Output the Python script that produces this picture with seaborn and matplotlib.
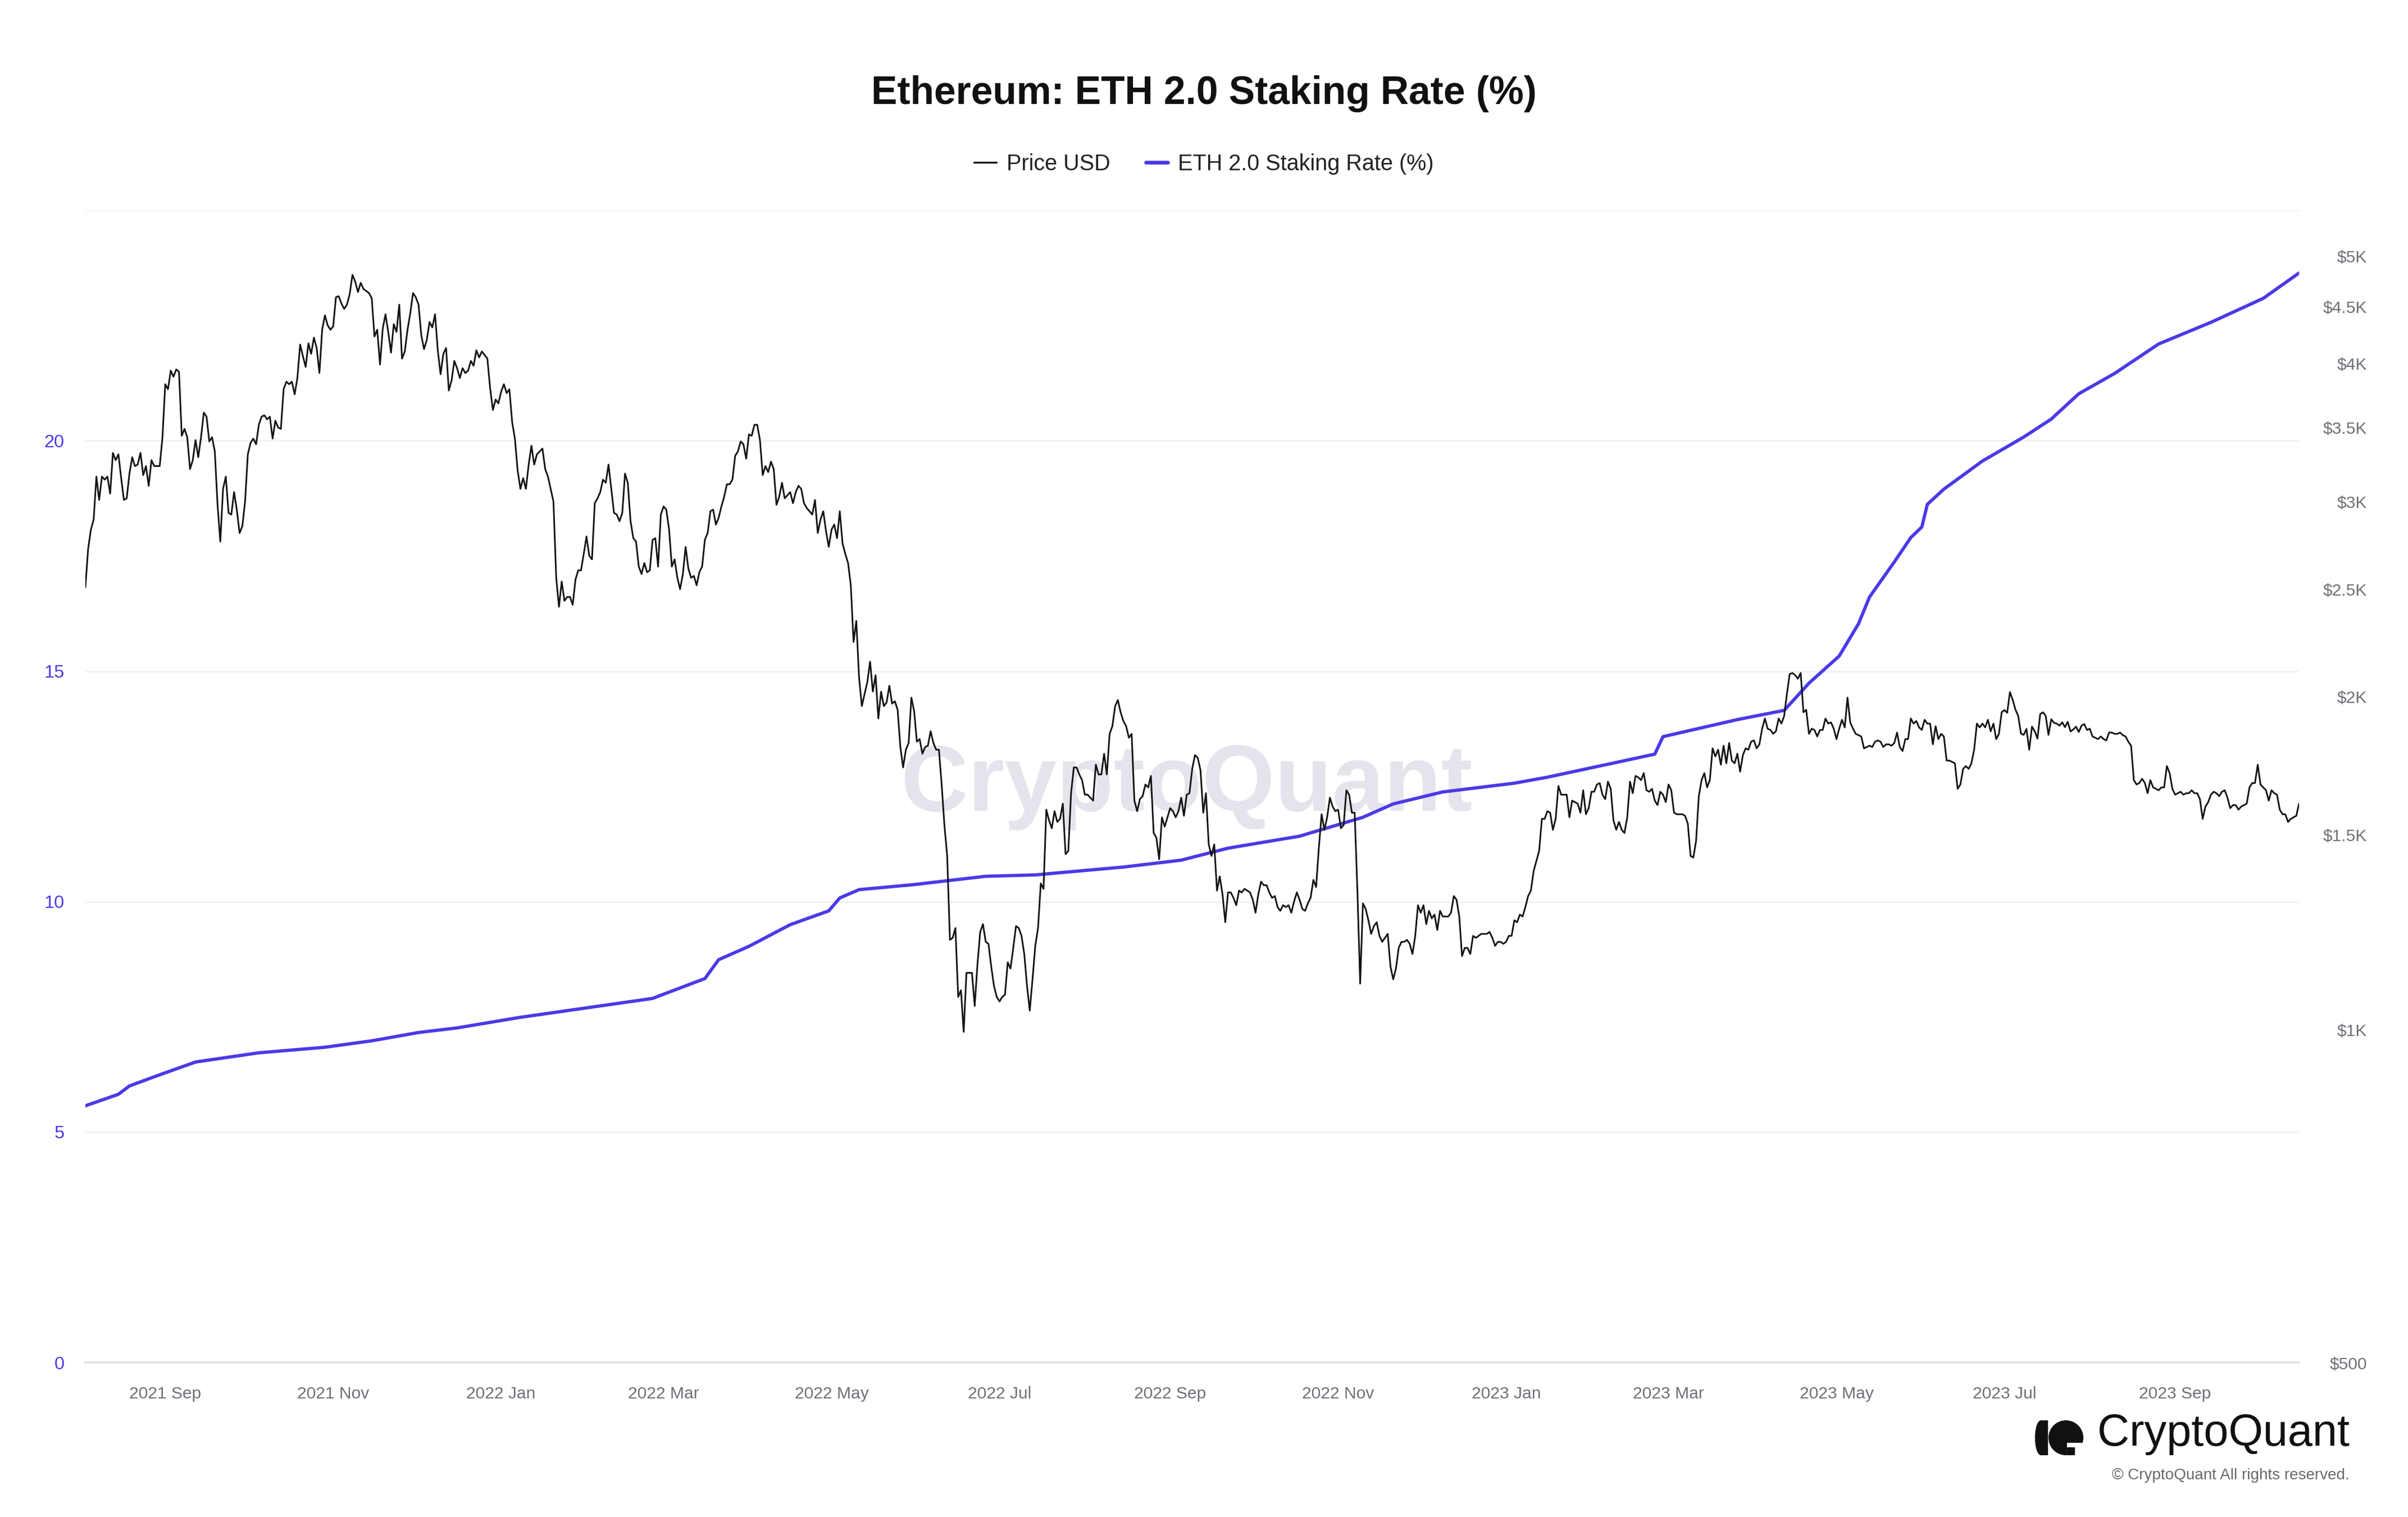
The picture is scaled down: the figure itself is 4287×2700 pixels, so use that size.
import numpy as np
import pandas as pd
import matplotlib
matplotlib.use("Agg")
import matplotlib.pyplot as plt
import matplotlib.dates as mdates
from matplotlib.ticker import FixedLocator, NullLocator, FixedFormatter
from matplotlib.lines import Line2D
from matplotlib.patches import Ellipse, Circle, Rectangle
import seaborn as sns

# ---------------- data ----------------
price_2021_08 = [2510, 2720, 2830, 2890, 3160, 3010, 3160, 3140, 3160, 3050, 3320, 3270, 3310, 3150, 3010,
                 3020, 3180, 3290, 3230, 3240, 3320, 3170, 3230, 3100, 3270, 3230, 3230, 3230, 3430]
price_2021_09 = [3830, 3790, 3940, 3890, 3950, 3930, 3440, 3490, 3430, 3210, 3270, 3410, 3290, 3430, 3610,
                 3580, 3400, 3430, 3330, 2980, 2760, 3080, 3160, 2930, 2920, 3060, 2950, 2810, 2850, 3000]
price_2021_10 = [3310, 3390, 3420, 3380, 3520, 3580, 3590, 3560, 3580, 3420, 3550, 3500, 3490, 3790, 3850,
                 3830, 3850, 3750, 3880, 4160, 4060, 3970, 4170, 4080, 4220, 4130, 3920, 4290, 4420, 4330, 4290]
price_2021_11 = [4320, 4590, 4600, 4530, 4480, 4520, 4620, 4810, 4740, 4640, 4730, 4670, 4650, 4630, 4580,
                 4230, 4290, 3990, 4300, 4430, 4270, 4090, 4340, 4270, 4520, 4040, 4100, 4290, 4440, 4630]
price_2021_12 = [4590, 4520, 4240, 4120, 4200, 4360, 4310, 4430, 4110, 3910, 4080, 4130, 3780, 3860, 4020,
                 3960, 3880, 3960, 3920, 3940, 4020, 3980, 4110, 4050, 4100, 4070, 4040, 3800, 3630, 3710, 3680]
price_2022_01 = [3770, 3830, 3760, 3790, 3540, 3420, 3200, 3080, 3150, 3080, 3240, 3370, 3240, 3310, 3330,
                 3350, 3210, 3160, 3080, 3000, 2560, 2410, 2540, 2440, 2460, 2460, 2420, 2550, 2600, 2600, 2690]
price_2022_02 = [2790, 2680, 2660, 2990, 3020, 3060, 3140, 3120, 3240, 3080, 2930, 2920, 2880, 2930, 3180,
                 3120, 2880, 2780, 2760, 2620, 2580, 2640, 2590, 2600, 2770, 2780, 2620, 2920]
price_2022_03 = [2970, 2950, 2830, 2620, 2660, 2560, 2500, 2580, 2730, 2610, 2560, 2570, 2520, 2590, 2620,
                 2770, 2810, 2940, 2950, 2860, 2900, 2970, 3030, 3110, 3110, 3140, 3300, 3330, 3400, 3380, 3280]
price_2022_04 = [3450, 3440, 3520, 3520, 3410, 3170, 3230, 3190, 3260, 3210, 2980, 3030, 3120, 3020, 3040,
                 3060, 2990, 3060, 3100, 3080, 2990, 2960, 2940, 2920, 3010, 2810, 2890, 2940, 2820, 2730]
price_2022_05 = [2830, 2860, 2780, 2940, 2750, 2690, 2640, 2520, 2240, 2340, 2080, 1960, 2010, 2060, 2150,
                 2020, 2090, 1910, 2020, 1960, 1975, 2045, 1970, 1980, 1945, 1800, 1725, 1790, 1815, 1995, 1940]
price_2022_06 = [1820, 1830, 1775, 1800, 1805, 1860, 1815, 1790, 1790, 1665, 1530, 1435, 1205, 1210, 1235,
                 1070, 1085, 995, 1125, 1125, 1125, 1050, 1145, 1225, 1245, 1200, 1195, 1140, 1095, 1070]
price_2022_07 = [1060, 1070, 1075, 1150, 1135, 1185, 1240, 1235, 1215, 1170, 1095, 1040, 1110, 1190, 1235,
                 1355, 1340, 1580, 1545, 1520, 1575, 1540, 1550, 1600, 1440, 1450, 1635, 1725, 1725, 1700, 1680]
price_2022_08 = [1630, 1630, 1620, 1610, 1735, 1700, 1700, 1775, 1700, 1850, 1880, 1960, 1985, 1935, 1900,
                 1880, 1835, 1850, 1610, 1575, 1615, 1625, 1665, 1655, 1695, 1505, 1490, 1425, 1555, 1525, 1555]
price_2022_09 = [1585, 1575, 1555, 1575, 1620, 1560, 1630, 1635, 1720, 1770, 1760, 1715, 1570, 1635, 1470,
                 1435, 1470, 1335, 1375, 1325, 1250, 1330, 1330, 1315, 1295, 1335, 1330, 1340, 1335, 1330]
price_2022_10 = [1310, 1275, 1325, 1360, 1350, 1350, 1330, 1315, 1320, 1290, 1280, 1295, 1290, 1295, 1275,
                 1305, 1330, 1310, 1285, 1280, 1300, 1315, 1365, 1345, 1460, 1565, 1515, 1555, 1620, 1590, 1575]
price_2022_11 = [1580, 1520, 1530, 1645, 1630, 1570, 1570, 1335, 1100, 1300, 1285, 1255, 1220, 1240, 1250,
                 1215, 1200, 1210, 1220, 1140, 1110, 1135, 1185, 1200, 1200, 1205, 1195, 1170, 1215, 1295]
price_2022_12 = [1275, 1295, 1245, 1280, 1260, 1270, 1230, 1280, 1265, 1265, 1265, 1275, 1320, 1310, 1265,
                 1165, 1185, 1185, 1170, 1215, 1210, 1215, 1220, 1220, 1220, 1225, 1210, 1190, 1200, 1200, 1195]
price_2023_01 = [1200, 1215, 1215, 1255, 1250, 1270, 1265, 1290, 1320, 1335, 1390, 1420, 1450, 1550, 1550,
                 1575, 1570, 1515, 1550, 1660, 1630, 1630, 1630, 1555, 1610, 1605, 1600, 1570, 1645, 1565, 1585]
price_2023_02 = [1640, 1640, 1665, 1670, 1630, 1615, 1675, 1650, 1545, 1515, 1540, 1515, 1505, 1555, 1675,
                 1635, 1695, 1690, 1680, 1705, 1645, 1640, 1650, 1610, 1595, 1640, 1630, 1605]
price_2023_03 = [1665, 1645, 1570, 1565, 1565, 1565, 1560, 1535, 1435, 1430, 1480, 1625, 1680, 1705, 1655,
                 1680, 1795, 1765, 1790, 1735, 1805, 1740, 1815, 1750, 1740, 1775, 1710, 1770, 1795, 1790, 1820]
price_2023_04 = [1825, 1795, 1810, 1870, 1910, 1870, 1865, 1850, 1860, 1910, 1890, 1920, 2010, 2095, 2100,
                 2090, 2075, 2100, 1935, 1945, 1850, 1870, 1865, 1840, 1865, 1865, 1910, 1890, 1895, 1870]
price_2023_05 = [1830, 1870, 1905, 1875, 1995, 1895, 1870, 1850, 1845, 1840, 1795, 1800, 1805, 1800, 1820,
                 1825, 1820, 1800, 1810, 1810, 1805, 1815, 1855, 1800, 1785, 1830, 1830, 1910, 1890, 1900, 1875]
price_2023_06 = [1865, 1905, 1890, 1890, 1810, 1880, 1830, 1850, 1840, 1750, 1750, 1745, 1740, 1650, 1665,
                 1720, 1730, 1720, 1740, 1790, 1890, 1875, 1890, 1875, 1905, 1860, 1890, 1830, 1850, 1935]
price_2023_07 = [1944, 1933, 2018, 1986, 1946, 1920, 1851, 1846, 1869, 1790, 1878, 1860, 1832, 1928, 1935,
                 1920, 1846, 1907, 1893, 1890, 1882, 1895, 1876, 1897, 1859, 1867, 1878, 1857, 1882, 1888, 1865]
price_2023_08 = [1870, 1840, 1835, 1830, 1840, 1830, 1825, 1855, 1855, 1850, 1850, 1855, 1845, 1840, 1820,
                 1805, 1680, 1665, 1670, 1685, 1670, 1635, 1680, 1655, 1650, 1645, 1655, 1655, 1730, 1705, 1650]
price_2023_09 = [1630, 1635, 1640, 1630, 1635, 1635, 1645, 1635, 1635, 1615, 1550, 1590, 1605, 1630, 1640,
                 1635, 1625, 1640, 1645, 1620, 1585, 1595, 1595, 1580, 1590, 1595, 1600, 1655, 1670, 1670]
price_2023_10 = [1735, 1665, 1655, 1645, 1610, 1645, 1635, 1630, 1580, 1565, 1565, 1540, 1550, 1555, 1560, 1600]

price_months = [
    ("2021-08-03", price_2021_08), ("2021-09-01", price_2021_09), ("2021-10-01", price_2021_10),
    ("2021-11-01", price_2021_11), ("2021-12-01", price_2021_12), ("2022-01-01", price_2022_01),
    ("2022-02-01", price_2022_02), ("2022-03-01", price_2022_03), ("2022-04-01", price_2022_04),
    ("2022-05-01", price_2022_05), ("2022-06-01", price_2022_06), ("2022-07-01", price_2022_07),
    ("2022-08-01", price_2022_08), ("2022-09-01", price_2022_09), ("2022-10-01", price_2022_10),
    ("2022-11-01", price_2022_11), ("2022-12-01", price_2022_12), ("2023-01-01", price_2023_01),
    ("2023-02-01", price_2023_02), ("2023-03-01", price_2023_03), ("2023-04-01", price_2023_04),
    ("2023-05-01", price_2023_05), ("2023-06-01", price_2023_06), ("2023-07-01", price_2023_07),
    ("2023-08-01", price_2023_08), ("2023-09-01", price_2023_09), ("2023-10-01", price_2023_10),
]

staking_dates = ["2021-08-03", "2021-08-15", "2021-08-19", "2021-08-28", "2021-09-12", "2021-10-05",
                 "2021-10-29", "2021-11-15", "2021-12-02", "2021-12-16", "2022-01-08", "2022-02-04",
                 "2022-02-25", "2022-03-08", "2022-03-16", "2022-03-21", "2022-04-01", "2022-04-16",
                 "2022-04-30", "2022-05-04", "2022-05-11", "2022-05-31", "2022-06-26", "2022-07-14",
                 "2022-08-15", "2022-09-05", "2022-09-22", "2022-10-18", "2022-11-10", "2022-11-21",
                 "2022-12-09", "2023-01-04", "2023-01-16", "2023-02-10", "2023-02-24", "2023-02-27",
                 "2023-03-26", "2023-04-12", "2023-04-21", "2023-05-02", "2023-05-09", "2023-05-13",
                 "2023-05-22", "2023-05-28", "2023-06-01", "2023-06-03", "2023-06-09", "2023-06-23",
                 "2023-07-08", "2023-07-18", "2023-07-28", "2023-08-10", "2023-08-26", "2023-09-14",
                 "2023-10-03", "2023-10-16"]
staking_rate = [5.57, 5.82, 6.00, 6.20, 6.52, 6.72,
                6.84, 6.98, 7.16, 7.26, 7.49, 7.72,
                7.90, 8.15, 8.33, 8.74, 9.03, 9.50,
                9.80, 10.08, 10.26, 10.37, 10.55, 10.58,
                10.75, 10.90, 11.16, 11.42, 11.83, 12.12,
                12.38, 12.57, 12.70, 13.02, 13.20, 13.58,
                13.95, 14.15, 14.74, 15.33, 16.03, 16.61,
                17.37, 17.90, 18.13, 18.62, 18.95, 19.56,
                20.08, 20.47, 21.02, 21.46, 22.10, 22.57,
                23.09, 23.64]

left_ticks = [0, 5, 10, 15, 20]
grid_levels = [5, 10, 15, 20, 25]
price_ticks = [500, 1000, 1500, 2000, 2500, 3000, 3500, 4000, 4500, 5000]
price_tick_labels = ["$500", "$1K", "$1.5K", "$2K", "$2.5K", "$3K", "$3.5K", "$4K", "$4.5K", "$5K"]
x_tick_dates = ["2021-09-01", "2021-11-01", "2022-01-01", "2022-03-01", "2022-05-01", "2022-07-01",
                "2022-09-01", "2022-11-01", "2023-01-01", "2023-03-01", "2023-05-01", "2023-07-01",
                "2023-09-01"]

# ---------------- frames ----------------
p_dates, p_vals = [], []
for start, vals in price_months:
    d0 = pd.Timestamp(start)
    p_dates.extend([d0 + pd.Timedelta(days=i) for i in range(len(vals))])
    p_vals.extend(vals)
price_df = pd.DataFrame({"date": p_dates, "price": p_vals})
stake_df = pd.DataFrame({"date": pd.to_datetime(staking_dates), "rate": staking_rate})

# ---------------- style ----------------
sns.set_style("white")
plt.rcParams["font.family"] = ["Liberation Sans", "DejaVu Sans"]

BLUE = "#4A3AE6"
GRAY_TXT = "#6f6f78"

fig = plt.figure(figsize=(4287 / 300, 2700 / 300), dpi=300)
ax = fig.add_axes([0.03546, 0.10185, 0.91929, 0.7595])
ax2 = ax.twinx()

# watermark
ax.text(0.4975, 0.50, "CryptoQuant", transform=ax.transAxes, ha="center", va="center",
        fontsize=40, fontweight="bold", color="#e4e4ec", zorder=0.5)

sns.lineplot(data=stake_df, x="date", y="rate", ax=ax, color=BLUE, linewidth=1.4, zorder=3)
sns.lineplot(data=price_df, x="date", y="price", ax=ax2, color="#141414", linewidth=0.7, zorder=2)

xmin = price_df["date"].min()
xmax = price_df["date"].max()
ax.set_xlim(xmin, xmax)
ax2.set_xlim(xmin, xmax)

ax.set_ylim(0, 25)
ax2.set_yscale("log")
ax2.set_ylim(500, 5500)

for lvl in grid_levels:
    ax.axhline(lvl, color="#f0f0f2", linewidth=0.6, zorder=0.3)

ax.set_yticks(left_ticks)
ax.set_yticklabels([str(v) for v in left_ticks])
ax.tick_params(axis="y", length=0, pad=9, labelsize=7.8, labelcolor=BLUE)

ax2.yaxis.set_major_locator(FixedLocator(price_ticks))
ax2.yaxis.set_major_formatter(FixedFormatter(price_tick_labels))
ax2.yaxis.set_minor_locator(NullLocator())
ax2.tick_params(axis="y", length=0, pad=29, labelsize=7.2, labelcolor=GRAY_TXT)
for lab in ax2.get_yticklabels():
    lab.set_horizontalalignment("right")

ax.set_xticks(pd.to_datetime(x_tick_dates))
ax.xaxis.set_major_formatter(mdates.DateFormatter("%Y %b"))
ax.tick_params(axis="x", length=5, width=0.5, color="#e2e2e6", pad=5, labelsize=7.2, labelcolor=GRAY_TXT)

for a in (ax, ax2):
    for s in ("top", "left", "right"):
        a.spines[s].set_visible(False)
    a.set_xlabel("")
    a.set_ylabel("")
ax.spines["bottom"].set_color("#e3e3e9")
ax.spines["bottom"].set_linewidth(1.0)
ax2.spines["bottom"].set_visible(False)
if ax.get_legend():
    ax.get_legend().remove()
if ax2.get_legend():
    ax2.get_legend().remove()

# title & legend
fig.text(0.5, 0.938, "Ethereum: ETH 2.0 Staking Rate (%)", ha="center", va="center",
         fontsize=16.7, fontweight="bold", color="#111111")
handles = [Line2D([0], [0], color="#141414", linewidth=0.8),
           Line2D([0], [0], color=BLUE, linewidth=1.6)]
fig.legend(handles, ["Price USD", "ETH 2.0 Staking Rate (%)"], loc="center",
           bbox_to_anchor=(0.5, 0.892), ncol=2, frameon=False, fontsize=9.5,
           handlelength=1.0, handletextpad=0.45, columnspacing=1.6, labelcolor="#222222")

# logo
fig.text(0.9757, 0.0545, "CryptoQuant", ha="right", va="center", fontsize=19, color="#111111")
fig.text(0.9757, 0.0273, "\u00a9 CryptoQuant All rights reserved.", ha="right", va="center",
         fontsize=6.7, color="#6a6a6a")
lax = fig.add_axes([3620 / 4287, 1 - 2592 / 2700, 100 / 4287, 66 / 2700])
lax.set_xlim(0, 100)
lax.set_ylim(0, 66)
lax.set_aspect("equal")
lax.axis("off")
lax.add_patch(Ellipse((14, 33), 18, 58, color="#111111"))
lax.add_patch(Rectangle((14, 4), 10, 58, color="#111111"))
lax.add_patch(Circle((58, 33), 29, color="#111111"))
lax.add_patch(Rectangle((62, 4), 26, 18, color="white"))
lax.add_patch(Rectangle((62, 4), 10, 10, color="#111111"))

fig.savefig("out.png", dpi=300, facecolor="white")
